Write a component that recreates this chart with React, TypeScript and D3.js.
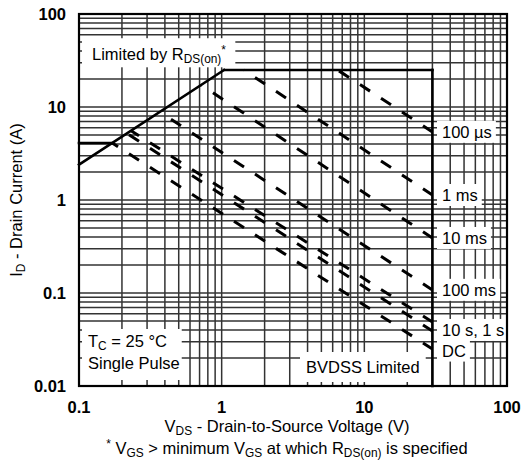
import React, { useEffect, useRef } from "react";
import * as d3 from "d3";

// ---- data ----
const xTickValues = [0.1, 1, 10, 100];
const xTickLabels = ["0.1", "1", "10", "100"];
const yTickValues = [0.01, 0.1, 1, 10, 100];
const yTickLabels = ["0.01", "0.1", "1", "10", "100"];

// solid limit lines [V, A]
const rdsOnLimit = [[0.1, 2.4], [1.04, 25]];
const dcCurrentLimit = [[0.1, 4.1], [0.171, 4.1]];
const pulsedCurrentLimit = [[1.04, 25], [30, 25]];
const bvdssLimit = [[30, 25], [30, 0.01]];

// dashed SOA lines
const pulseNames = ["100 µs", "1 ms", "10 ms", "100 ms", "1 s", "10 s", "DC"];
const pulseStart = [[6.5, 25], [1.43, 25], [0.72, 17.2], [0.37, 8.8], [0.23, 5.6], [0.217, 5.2], [0.171, 4.1]];
const pulseEnd = [[30, 5.4], [30, 1.13], [30, 0.39], [30, 0.108], [30, 0.0487], [30, 0.039], [30, 0.025]];

// right-side labels and the current they sit at
const curveLabels = ["100 µs", "1 ms", "10 ms", "100 ms", "10 s, 1 s", "DC"];
const curveLabelCurrent = [5.4, 1.13, 0.39, 0.108, 0.04, 0.024];

const W = 528;
const H = 461;
const FONT = "'Liberation Sans', Arial, Helvetica, sans-serif";
const FS = 16.5;

type Part = { t: string; s?: "sub" | "sup" };

export default function App() {
  const ref = useRef<SVGSVGElement | null>(null);

  useEffect(() => {
    const svg = d3.select(ref.current);
    svg.selectAll("*").remove();

    const x = d3.scaleLog().domain([0.1, 100]).range([79, 507]);
    const y = d3.scaleLog().domain([0.01, 100]).range([386, 14]);

    const [x0, x1] = x.range();
    const [y0, y1] = y.range();

    // grid
    const gridG = svg.append("g");
    const gridVals = (lo: number, hi: number) => {
      const out: number[] = [];
      for (let e = Math.round(Math.log10(lo)); e < Math.round(Math.log10(hi)); e++) {
        for (let m = 1; m <= 9; m++) out.push(m * Math.pow(10, e));
      }
      out.push(hi);
      return out;
    };
    gridVals(0.1, 100).forEach((v) => {
      gridG.append("line").attr("x1", x(v)).attr("x2", x(v)).attr("y1", y0).attr("y2", y1)
        .attr("stroke", "#333").attr("stroke-width", 1.5);
    });
    gridVals(0.01, 100).forEach((v) => {
      gridG.append("line").attr("y1", y(v)).attr("y2", y(v)).attr("x1", x0).attr("x2", x1)
        .attr("stroke", "#333").attr("stroke-width", 1.5);
    });

    const boxG = svg.append("g");
    const lineG = svg.append("g");
    const textG = svg.append("g").attr("font-family", FONT).attr("fill", "#000");

    const rich = (
      g: any, tx: number, ty: number, parts: Part[], size: number, anchor: string, weight = "normal"
    ) => {
      const t = g.append("text").attr("x", tx).attr("y", ty).attr("font-size", size)
        .attr("text-anchor", anchor).attr("font-weight", weight);
      let cur = 0;
      parts.forEach((p) => {
        const shift = p.s === "sub" ? size * 0.2 : p.s === "sup" ? -size * 0.35 : 0;
        const ts = t.append("tspan").attr("dy", shift - cur).text(p.t);
        if (p.s) ts.attr("font-size", size * 0.72);
        cur = shift;
      });
      return t;
    };

    const box = (node: any, l: number, r: number, tp: number, bt: number) => {
      const b = node.node().getBBox();
      boxG.append("rect").attr("x", b.x - l).attr("y", b.y - tp)
        .attr("width", b.width + l + r).attr("height", b.height + tp + bt).attr("fill", "#fff");
    };

    // annotations with white boxes
    const lim = rich(textG, 92, 60, [{ t: "Limited by R" }, { t: "DS(on)", s: "sub" }, { t: "*", s: "sup" }], FS, "start");
    box(lim, 10, 9, 5, 1);

    const tc = textG.append("g");
    rich(tc, 88, 347, [{ t: "T" }, { t: "C", s: "sub" }, { t: " = 25 °C" }], FS, "start");
    rich(tc, 88, 369, [{ t: "Single Pulse" }], FS, "start");
    {
      const b = (tc as any).node().getBBox();
      boxG.append("rect").attr("x", b.x - 6).attr("y", b.y - 3).attr("width", b.width + 8)
        .attr("height", y0 - 6 - (b.y - 3)).attr("fill", "#fff");
    }

    const bv = rich(textG, 306, 373, [{ t: "BVDSS Limited" }], FS, "start");
    {
      const b = bv.node().getBBox();
      boxG.append("rect").attr("x", b.x - 6).attr("y", b.y - 6).attr("width", b.width + 12)
        .attr("height", y0 - 4 - (b.y - 6)).attr("fill", "#fff");
    }

    curveLabels.forEach((lab, i) => {
      const t = textG.append("text").attr("x", 442).attr("y", y(curveLabelCurrent[i]))
        .attr("dy", "0.36em").attr("font-size", FS).text(lab);
      box(t, 5, 4, 2, 2);
    });

    // solid limit lines
    const line = d3.line<number[]>().x((d) => x(d[0])).y((d) => y(d[1]));
    [rdsOnLimit, dcCurrentLimit, pulsedCurrentLimit, bvdssLimit].forEach((pts) => {
      lineG.append("path").attr("d", line(pts as any)).attr("fill", "none")
        .attr("stroke", "#000").attr("stroke-width", 2.6).attr("stroke-linecap", "square");
    });

    // dashed lines, dashes aligned on a common x rhythm
    const DASH_ORIGIN = 129, DASH_PERIOD = 21, DASH_X = 10;
    pulseNames.forEach((name, i) => {
      const a = pulseStart[i], b = pulseEnd[i];
      const ax = x(a[0]), ay = y(a[1]), bx = x(b[0]), by = y(b[1]);
      const f = Math.hypot(bx - ax, by - ay) / (bx - ax);
      const phase = (((ax - DASH_ORIGIN) % DASH_PERIOD) + DASH_PERIOD) % DASH_PERIOD;
      lineG.append("path").attr("d", line([a, b] as any)).attr("fill", "none")
        .attr("stroke", "#000").attr("stroke-width", 3)
        .attr("stroke-dasharray", `${DASH_X * f} ${(DASH_PERIOD - DASH_X) * f}`)
        .attr("stroke-dashoffset", phase * f)
        .attr("data-name", name);
    });

    // frame
    svg.append("rect").attr("x", x0).attr("y", y1).attr("width", x1 - x0).attr("height", y0 - y1)
      .attr("fill", "none").attr("stroke", "#000").attr("stroke-width", 2.2);

    // tick labels
    xTickValues.forEach((v, i) => {
      textG.append("text").attr("x", x(v)).attr("y", 413).attr("text-anchor", "middle")
        .attr("font-size", FS).attr("font-weight", "bold").text(xTickLabels[i]);
    });
    yTickValues.forEach((v, i) => {
      textG.append("text").attr("x", 66).attr("y", y(v)).attr("dy", "0.36em").attr("text-anchor", "end")
        .attr("font-size", FS).attr("font-weight", "bold").text(yTickLabels[i]);
    });

    // axis titles
    rich(textG, 287, 432, [{ t: "V" }, { t: "DS", s: "sub" }, { t: " - Drain-to-Source Voltage (V)" }], FS, "middle");
    rich(textG, 287, 454, [
      { t: "*", s: "sup" }, { t: " V" }, { t: "GS", s: "sub" }, { t: " > minimum V" }, { t: "GS", s: "sub" },
      { t: " at which R" }, { t: "DS(on)", s: "sub" }, { t: " is specified" },
    ], FS, "middle");
    const yt = textG.append("g").attr("transform", `translate(22,${(y0 + y1) / 2}) rotate(-90)`);
    rich(yt, 0, 0, [{ t: "I" }, { t: "D", s: "sub" }, { t: " - Drain Current (A)" }], FS, "middle");
  }, []);

  return (
    <svg
      ref={ref}
      width={W}
      height={H}
      style={{ position: "absolute", left: 0, top: 0, background: "#fff" }}
    />
  );
}
